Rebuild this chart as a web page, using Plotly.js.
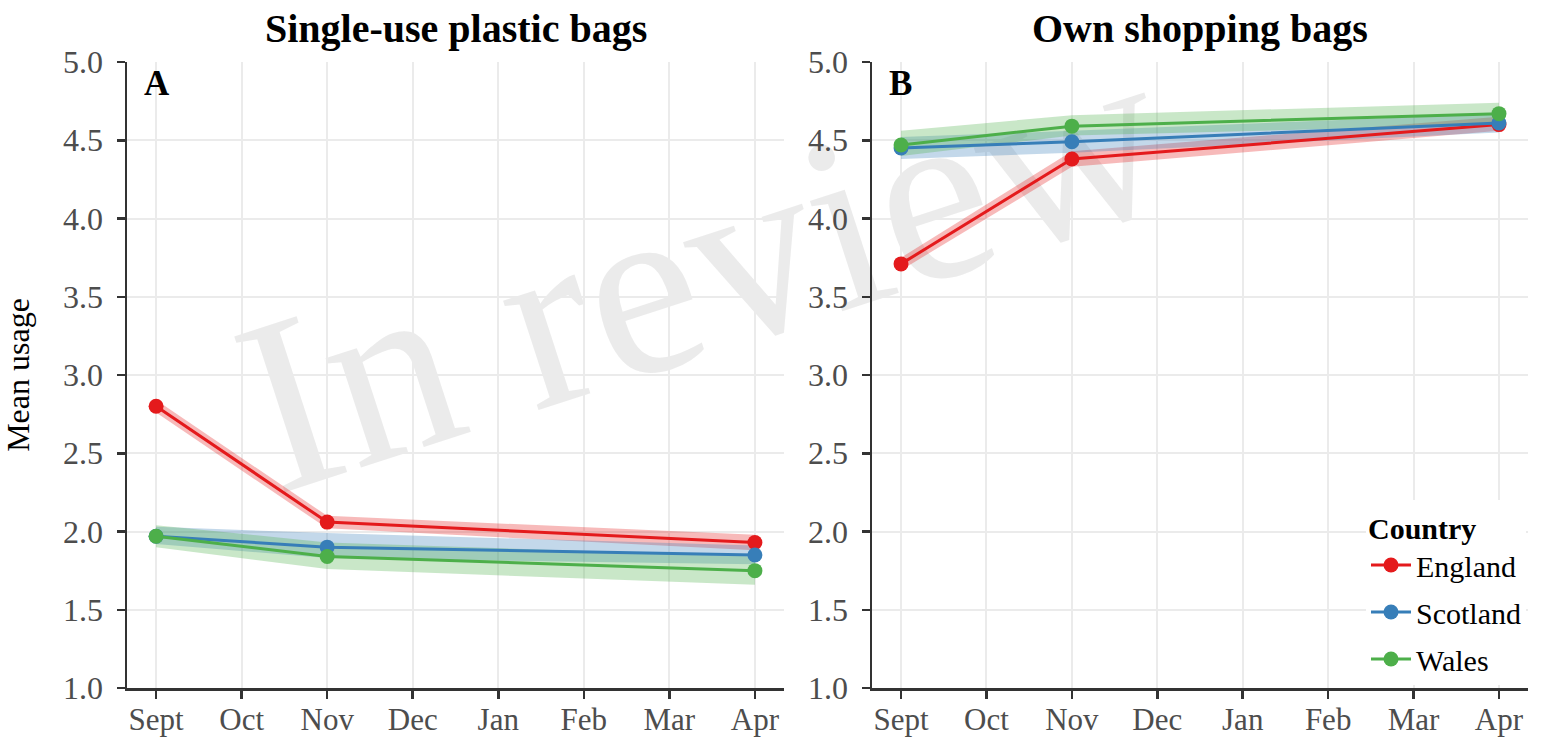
<!DOCTYPE html>
<html>
<head>
<meta charset="utf-8">
<script src="https://cdn.plot.ly/plotly-3.0.1.min.js"></script>
<style>html,body{margin:0;padding:0;background:#fff;}#chart{width:1549px;height:745px;}</style>
</head>
<body>
<div id="chart"></div>
<script>
// ---- data ----
const months = ['Sept','Oct','Nov','Dec','Jan','Feb','Mar','Apr'];
const waves = ['Sept','Nov','Apr'];
const countries = ['England','Scotland','Wales'];
const colors = ['#E41A1C','#377EB8','#4DAF4A'];
const fills = ['rgba(228,26,28,0.3)','rgba(55,126,184,0.3)','rgba(77,175,74,0.3)'];

// Panel A: single-use plastic bags
const plasticMean  = [[2.80, 2.06, 1.93],[1.97, 1.90, 1.85],[1.97, 1.84, 1.75]];
const plasticLower = [[2.76, 2.02, 1.88],[1.92, 1.83, 1.79],[1.90, 1.76, 1.66]];
const plasticUpper = [[2.84, 2.10, 1.98],[2.03, 1.99, 1.91],[2.04, 1.93, 1.84]];

// Panel B: own shopping bags
const ownMean  = [[3.71, 4.38, 4.60],[4.45, 4.49, 4.61],[4.47, 4.59, 4.67]];
const ownLower = [[3.67, 4.33, 4.56],[4.38, 4.42, 4.55],[4.40, 4.53, 4.60]];
const ownUpper = [[3.75, 4.43, 4.65],[4.52, 4.56, 4.67],[4.56, 4.66, 4.74]];

const panelTitles = ['Single-use plastic bags','Own shopping bags'];
const panelLabels = ['A','B'];
const yTicks = [1.0,1.5,2.0,2.5,3.0,3.5,4.0,4.5,5.0];

// ---- build traces ----
const traces = [];
function addPanel(mean, lower, upper, xa, ya, legend) {
  for (let i = 0; i < countries.length; i++) {
    traces.push({
      x: waves.concat(waves.slice().reverse()),
      y: upper[i].concat(lower[i].slice().reverse()),
      xaxis: xa, yaxis: ya, type: 'scatter', mode: 'lines',
      fill: 'toself', fillcolor: fills[i], line: {width: 0, color: 'rgba(0,0,0,0)'},
      hoverinfo: 'skip', showlegend: false
    });
  }
  for (let i = 0; i < countries.length; i++) {
    traces.push({
      x: waves, y: mean[i], xaxis: xa, yaxis: ya, type: 'scatter',
      mode: 'lines+markers', name: countries[i],
      line: {color: colors[i], width: 3},
      marker: {color: colors[i], size: 15},
      showlegend: legend, legendgroup: countries[i]
    });
  }
}
addPanel(plasticMean, plasticLower, plasticUpper, 'x', 'y', false);
addPanel(ownMean, ownLower, ownUpper, 'x2', 'y2', true);

const FONT = 'Liberation Serif';
function xAxis(domain, anchor) {
  return {
    domain: domain, anchor: anchor, type: 'category',
    categoryorder: 'array', categoryarray: months,
    range: [-0.34, 7.34], showgrid: true, gridcolor: '#ebebeb', gridwidth: 2,
    showline: true, linecolor: '#333333', linewidth: 2.5,
    ticks: 'outside', ticklen: 8, tickwidth: 2.5, tickcolor: '#333333',
    ticklabelstandoff: -6,
    tickfont: {family: FONT, size: 31, color: '#4d4d4d'}, zeroline: false,
    automargin: false, fixedrange: true
  };
}
function yAxis(anchor, title) {
  return {
    domain: [57/745, 683/745], anchor: anchor, range: [1, 5],
    tickvals: yTicks, ticktext: yTicks.map(v => v.toFixed(1)),
    showgrid: true, gridcolor: '#ebebeb', gridwidth: 2,
    showline: true, linecolor: '#333333', linewidth: 2.5,
    ticks: 'outside', ticklen: 8, tickwidth: 2.5, tickcolor: '#333333',
    ticklabelstandoff: 7,
    tickfont: {family: FONT, size: 32, color: '#4d4d4d'}, zeroline: false,
    title: title ? {text: title, font: {family: FONT, size: 32, color: '#000'}, standoff: 26} : undefined,
    automargin: false, fixedrange: true
  };
}

const domA = [127/1549, 784/1549];
const domB = [872/1549, 1528/1549];

const layout = {
  width: 1549, height: 745,
  margin: {l: 0, r: 0, t: 0, b: 0},
  paper_bgcolor: '#ffffff', plot_bgcolor: '#ffffff',
  font: {family: FONT},
  xaxis: xAxis(domA, 'y'),
  yaxis: yAxis('x', 'Mean usage'),
  xaxis2: xAxis(domB, 'y2'),
  yaxis2: yAxis('x2', null),
  showlegend: true,
  legend: {
    x: 1366/1549, y: 1 - 500/745, xanchor: 'left', yanchor: 'top',
    bgcolor: '#ffffff', borderwidth: 0,
    title: {text: '<b>Country</b>', font: {family: FONT, size: 30, color: '#000'}},
    font: {family: FONT, size: 30, color: '#000'},
    traceorder: 'grouped', tracegroupgap: 5, itemwidth: 40
  },
  shapes: [{
    type: 'rect', xref: 'paper', yref: 'paper', layer: 'below',
    x0: 0.198, x1: 0.698, y0: 0.425, y1: 0.925,
    line: {width: 0}, fillcolor: 'rgba(0,0,0,0)',
    label: {text: 'In review', textangle: -18, textposition: 'middle center',
      font: {family: FONT, size: 250, color: 'rgba(190,190,190,0.3)'}}
  }],
  annotations: [
    {text: '<b>' + panelTitles[0] + '</b>', xref: 'paper', yref: 'paper',
     x: (domA[0]+domA[1])/2, y: 1 - 29/745, xanchor: 'center', yanchor: 'middle',
     showarrow: false, font: {family: FONT, size: 40, color: '#000'}},
    {text: '<b>' + panelTitles[1] + '</b>', xref: 'paper', yref: 'paper',
     x: (domB[0]+domB[1])/2, y: 1 - 29/745, xanchor: 'center', yanchor: 'middle',
     showarrow: false, font: {family: FONT, size: 40, color: '#000'}},
    {text: '<b>' + panelLabels[0] + '</b>', xref: 'paper', yref: 'paper',
     x: 142/1549, y: 1 - 83/745, xanchor: 'left', yanchor: 'middle',
     showarrow: false, font: {family: FONT, size: 35, color: '#000'}},
    {text: '<b>' + panelLabels[1] + '</b>', xref: 'paper', yref: 'paper',
     x: 887/1549, y: 1 - 83/745, xanchor: 'left', yanchor: 'middle',
     showarrow: false, font: {family: FONT, size: 35, color: '#000'}}
  ]
};

Plotly.newPlot('chart', traces, layout, {staticPlot: true, displayModeBar: false});
</script>
</body>
</html>
